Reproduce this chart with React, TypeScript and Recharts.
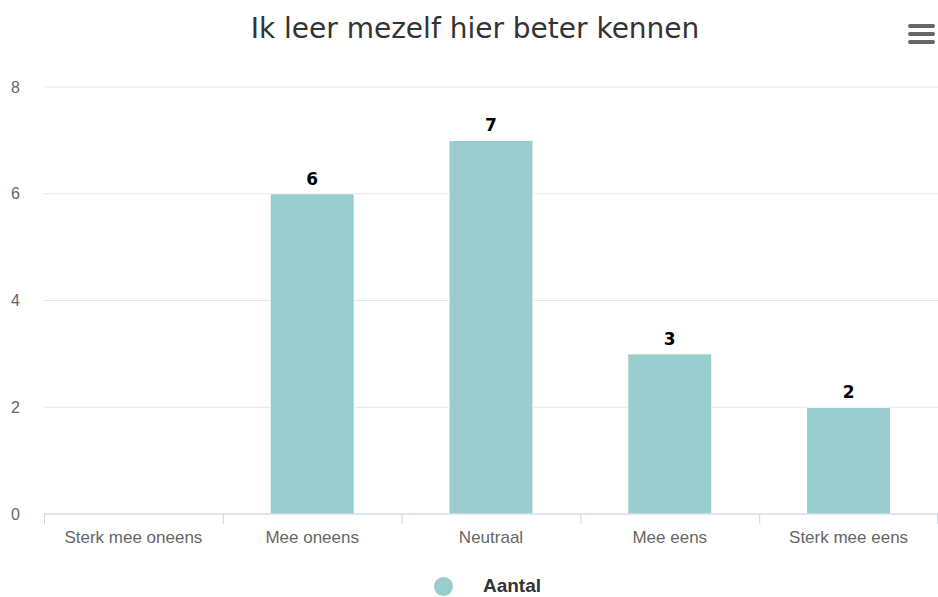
import React from "react";
import {
  BarChart,
  Bar,
  XAxis,
  YAxis,
  CartesianGrid,
  Legend,
  LabelList,
} from "recharts";

const categories = [
  "Sterk mee oneens",
  "Mee oneens",
  "Neutraal",
  "Mee eens",
  "Sterk mee eens",
];
const aantal = [0, 6, 7, 3, 2];
const yTicks = [0, 2, 4, 6, 8];
const seriesName = "Aantal";
const title = "Ik leer mezelf hier beter kennen";

const BAR_COLOR = "#99cccc";
const AXIS_COLOR = "#ccd6eb";
const LABEL_FONT = "'Liberation Sans', Arial, sans-serif";

const data = categories.map((c, i) => ({ name: c, value: aantal[i] }));

// category tick: label centered, tick marks on the band edges
function CategoryTick(props: any) {
  const { x, y, payload, index, visibleTicksCount } = props;
  const half = payload && payload.offset ? payload.offset : 89.4;
  const last = index === (visibleTicksCount ?? categories.length) - 1;
  return (
    <g>
      <line x1={x - half + 0.5} x2={x - half + 0.5} y1={y} y2={y + 10} stroke={AXIS_COLOR} />
      {last && (
        <line x1={x + half - 0.5} x2={x + half - 0.5} y1={y} y2={y + 10} stroke={AXIS_COLOR} />
      )}
      <text
        x={x}
        y={y + 29}
        textAnchor="middle"
        fill="#666666"
        fontSize={17}
        fontFamily={LABEL_FONT}
      >
        {payload.value}
      </text>
    </g>
  );
}

function LegendContent() {
  return (
    <div
      style={{
        height: 43,
        paddingLeft: 37,
        boxSizing: "border-box",
        display: "flex",
        justifyContent: "center",
        alignItems: "flex-start",
      }}
    >
      <div style={{ display: "flex", alignItems: "center", marginTop: 22, height: 20 }}>
        <span
          style={{
            width: 19,
            height: 19,
            borderRadius: "50%",
            background: BAR_COLOR,
            display: "inline-block",
          }}
        />
        <span
          style={{
            marginLeft: 30,
            fontFamily: LABEL_FONT,
            fontWeight: "bold",
            fontSize: 19,
            color: "#333333",
          }}
        >
          {seriesName}
        </span>
      </div>
    </div>
  );
}

export default function App() {
  return (
    <div
      style={{
        position: "absolute",
        left: 0,
        top: 0,
        width: 938,
        height: 597,
        background: "#fff",
      }}
    >
      <div
        style={{
          position: "absolute",
          top: 12,
          left: 0,
          width: 950,
          textAlign: "center",
          fontFamily: "'DejaVu Sans', Verdana, sans-serif",
          fontSize: 28,
          color: "#333333",
        }}
      >
        {title}
      </div>
      <svg
        width={28}
        height={24}
        style={{ position: "absolute", left: 907, top: 23 }}
      >
        {[3, 11, 19].map((yy) => (
          <line
            key={yy}
            x1={3}
            x2={26}
            y1={yy}
            y2={yy}
            stroke="#666666"
            strokeWidth={4}
            strokeLinecap="round"
          />
        ))}
      </svg>
      <BarChart
        width={938}
        height={597}
        data={data}
        margin={{ top: 87, right: 0, left: 0, bottom: 0 }}
        barCategoryGap="26.5%"
      >
        <CartesianGrid vertical={false} stroke="#e6e6e6" />
        <XAxis
          dataKey="name"
          height={40}
          axisLine={{ stroke: AXIS_COLOR }}
          tickLine={false}
          tickSize={0}
          tickMargin={0}
          interval={0}
          tick={<CategoryTick />}
        />
        <YAxis
          width={44}
          domain={[0, 8]}
          ticks={yTicks}
          axisLine={false}
          tickLine={false}
          tickSize={0}
          tickMargin={24}
          tick={{ fill: "#666666", fontSize: 16, fontFamily: LABEL_FONT }}
        />
        <Legend verticalAlign="bottom" height={43} content={<LegendContent />} />
        <Bar
          dataKey="value"
          name={seriesName}
          fill={BAR_COLOR}
          stroke="#ffffff"
          strokeWidth={1}
          isAnimationActive={false}
        >
          <LabelList
            dataKey="value"
            position="top"
            offset={9}
            formatter={(v: any) => (v ? v : "")}
            style={{
              fill: "#000000",
              fontWeight: "bold",
              fontSize: 17,
              fontFamily: "'DejaVu Sans', Verdana, sans-serif",
            }}
          />
        </Bar>
      </BarChart>
    </div>
  );
}
